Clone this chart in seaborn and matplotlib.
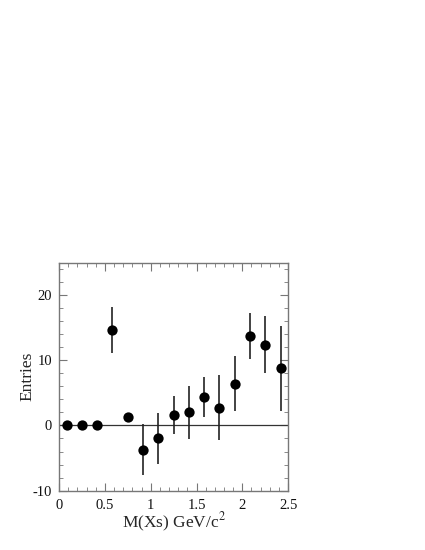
import numpy as np
import pandas as pd
import matplotlib
matplotlib.use("Agg")
import matplotlib.pyplot as plt
import seaborn as sns
from matplotlib.ticker import MultipleLocator

mass = [0.083, 0.25, 0.417, 0.583, 0.75, 0.917, 1.083, 1.25, 1.417, 1.583, 1.75, 1.917, 2.083, 2.25, 2.417]
entries = [0.0, 0.0, 0.0, 14.7, 1.33, -3.7, -2.0, 1.64, 2.0, 4.36, 2.72, 6.4, 13.7, 12.4, 8.77]
errors = [0.0, 0.0, 0.0, 3.5, 0.0, 3.9, 3.9, 2.9, 4.05, 3.05, 4.97, 4.25, 3.5, 4.4, 6.5]
xtick_labels = ["0", "0.5", "1", "1.5", "2", "2.5"]
ytick_labels = ["-10", "0", "10", "20"]

sns.set_theme(style="white")
plt.rcParams['font.family'] = ['Liberation Serif', 'DejaVu Serif']
plt.rcParams['mathtext.fontset'] = 'stix'

df = pd.DataFrame({"mass": mass, "entries": entries, "err": errors})

fig = plt.figure(figsize=(4.25, 5.5), dpi=100)
ax = fig.add_axes([0.139, 0.108, 0.539, 0.4145])

ax.axhline(0, color="#333333", lw=0.9, zorder=1)
ax.errorbar(df["mass"], df["entries"], yerr=df["err"], fmt="none", ecolor="#222222", elinewidth=1.2, zorder=2)
sns.scatterplot(data=df, x="mass", y="entries", ax=ax, color="black", s=55, edgecolor="black", linewidth=0, zorder=3)

ax.set_xlim(0, 2.5)
ax.set_ylim(-10, 25)
ax.xaxis.set_minor_locator(MultipleLocator(0.1))
ax.yaxis.set_minor_locator(MultipleLocator(2))
ax.set_xticks([float(t) for t in xtick_labels])
ax.set_xticklabels(xtick_labels)
ax.set_yticks([float(t) for t in ytick_labels])
ax.set_yticklabels(ytick_labels)
ax.tick_params(which="both", direction="in", top=True, right=True, bottom=True, left=True, color="#777777")
ax.tick_params(axis="x", which="major", length=6, width=0.8, labelsize=10.5, pad=6, labelcolor="#111111")
ax.tick_params(axis="y", which="major", length=6, width=0.8, labelsize=10.5, pad=5, labelcolor="#111111")
ax.tick_params(which="minor", length=3, width=0.6)
for s in ax.spines.values():
    s.set_color("#777777")
    s.set_linewidth(1.0)

ax.set_xlabel("M(Xs) GeV/c$^2$", fontsize=12.5, labelpad=-1)
ax.set_ylabel("Entries", fontsize=12.5, labelpad=-2)

fig.savefig("out.png", dpi=100)
